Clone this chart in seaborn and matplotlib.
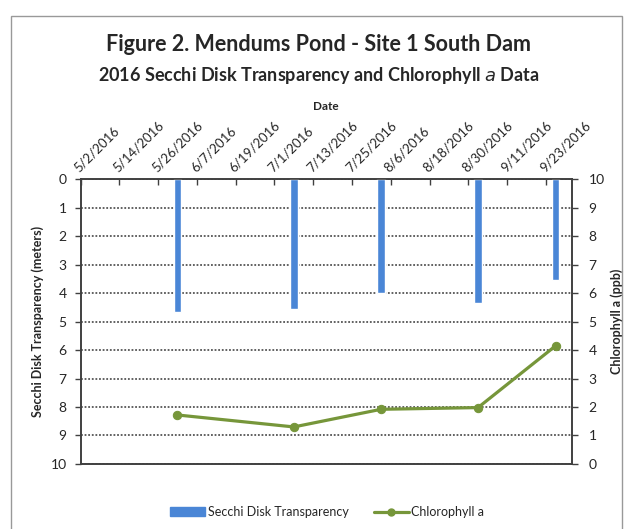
import matplotlib
matplotlib.use("Agg")
import matplotlib.pyplot as plt
import matplotlib.dates as mdates
from matplotlib.patches import Patch, Rectangle
from matplotlib.lines import Line2D
import numpy as np
import pandas as pd
import seaborn as sns

# sample dates and readings
sample_dates = ["2016-06-01", "2016-07-07", "2016-08-03", "2016-09-02", "2016-09-26"]
secchi_m = [4.65, 4.55, 4.0, 4.35, 3.55]
chlorophyll_ppb = [1.72, 1.3, 1.92, 1.98, 4.15]

tick_dates = ["2016-05-02", "2016-05-14", "2016-05-26", "2016-06-07", "2016-06-19",
              "2016-07-01", "2016-07-13", "2016-07-25", "2016-08-06", "2016-08-18",
              "2016-08-30", "2016-09-11", "2016-09-23"]
tick_labels = ["5/2/2016", "5/14/2016", "5/26/2016", "6/7/2016", "6/19/2016",
               "7/1/2016", "7/13/2016", "7/25/2016", "8/6/2016", "8/18/2016",
               "8/30/2016", "9/11/2016", "9/23/2016"]
x_range = ["2016-05-02", "2016-10-01"]

BLUE = "#4a86d6"
GREEN = "#76963a"

sns.set_theme(style="white")
plt.rcParams["font.family"] = ["Lato", "DejaVu Sans"]

x = mdates.date2num(pd.to_datetime(sample_dates))
ticks = mdates.date2num(pd.to_datetime(tick_dates))
xlim = mdates.date2num(pd.to_datetime(x_range))

fig = plt.figure(figsize=(6.29, 5.29), dpi=100)
ax = fig.add_axes([0.128, 0.123, 0.781, 0.538])

sns.barplot(x=x, y=secchi_m, native_scale=True, orient="x", width=0.1,
            color=BLUE, saturation=1, ax=ax, zorder=3)
ax.set_xlim(xlim)
ax.set_ylim(10, 0)
ax.set_yticks(range(0, 11))
ax.yaxis.grid(True, linestyle=(0, (1, 1)), color="#555555", linewidth=1.3)
ax.set_axisbelow(True)

ax.xaxis.tick_top()
ax.xaxis.set_label_position("top")
ax.set_xticks(ticks)
ax.set_xticklabels(tick_labels, rotation=45, ha="left", va="bottom",
                   rotation_mode="anchor", fontsize=9.5)
ax.tick_params(axis="x", direction="in", length=4, width=1, pad=4, color="#404040")
ax.tick_params(axis="y", direction="out", length=4, width=1, pad=6, labelsize=10,
               color="#404040", left=True)
ax.set_xlabel("Date", fontsize=8.5, fontweight="bold", labelpad=6)
ax.set_ylabel("Secchi Disk Transparency (meters)", fontsize=9, fontweight="bold")
ax.yaxis.set_label_coords(-0.075, 0.5)

ax2 = ax.twinx()
sns.lineplot(x=x, y=chlorophyll_ppb, ax=ax2, color=GREEN, linewidth=2.3,
             marker="o", markersize=6, markeredgecolor=GREEN)
ax2.set_ylim(0, 10)
ax2.set_yticks(range(0, 11))
ax2.tick_params(axis="y", direction="out", length=4, width=1, pad=8, labelsize=10,
                color="#404040", right=True)
ax2.set_ylabel("Chlorophyll a (ppb)", fontsize=9, fontweight="bold")
ax2.yaxis.set_label_coords(1.078, 0.5)
ax2.grid(False)

for a in (ax, ax2):
    for s in a.spines.values():
        s.set_visible(True)
        s.set_color("#404040")
        s.set_linewidth(1.2)

fig.text(0.506, 0.915, "Figure 2. Mendums Pond - Site 1 South Dam",
         ha="center", va="center", fontsize=15.5, fontweight="bold")
fig.text(0.506, 0.858, "2016 Secchi Disk Transparency and Chlorophyll $\\mathit{a}$ Data",
         ha="center", va="center", fontsize=13, fontweight="bold")

handles = [Patch(facecolor=BLUE, edgecolor=BLUE),
           Line2D([], [], color=GREEN, linewidth=2.3, marker="o", markersize=5)]
fig.legend(handles, ["Secchi Disk Transparency", "Chlorophyll a"],
           loc="center", bbox_to_anchor=(0.52, 0.032), ncol=2, frameon=False,
           fontsize=9, handlelength=2.8, handletextpad=0.2, columnspacing=2.0)

fig.add_artist(Rectangle((0.018, -0.05), 0.971, 1.02, transform=fig.transFigure,
                         fill=False, edgecolor="#999999", linewidth=1))

fig.savefig("out.png", dpi=100, facecolor="white")
